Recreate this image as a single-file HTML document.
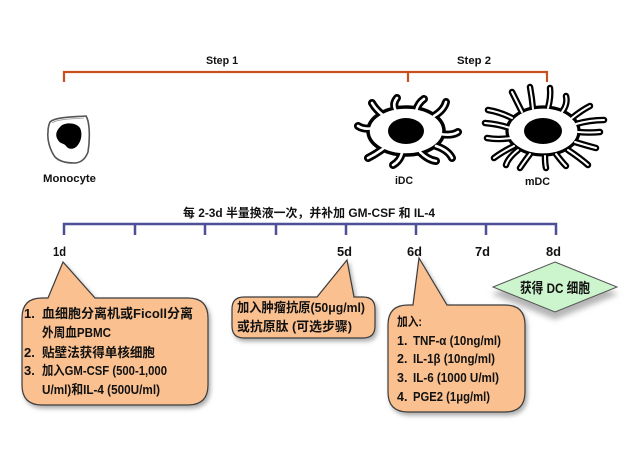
<!DOCTYPE html>
<html><head><meta charset="utf-8"><style>
html,body{margin:0;padding:0;background:#fff;}
svg{display:block;}
text{font-family:"Liberation Sans","Noto Sans CJK SC",sans-serif;font-weight:bold;fill:#111;}
</style></head><body>
<svg width="640" height="451" viewBox="0 0 640 451" xmlns="http://www.w3.org/2000/svg">
<defs>
<filter id="sh" x="-20%" y="-20%" width="140%" height="150%">
<feDropShadow dx="2" dy="3" stdDeviation="2" flood-color="#777" flood-opacity="0.6"/>
</filter>
<filter id="sh2" x="-20%" y="-30%" width="140%" height="180%">
<feDropShadow dx="0" dy="7" stdDeviation="3" flood-color="#777" flood-opacity="0.55"/>
</filter>
</defs>
<rect width="640" height="451" fill="#fff"/>

<!-- Step bracket -->
<g stroke="#C8501E" stroke-width="2.2" fill="none">
<path d="M64,82 L64,72 L547,72 L547,82"/>
<path d="M408,72 L408,82"/>
</g>
<text x="206" y="64" font-size="11" textLength="32" lengthAdjust="spacingAndGlyphs">Step 1</text>
<text x="457" y="64" font-size="11" textLength="34" lengthAdjust="spacingAndGlyphs">Step 2</text>

<!-- Monocyte -->
<path d="M50,122 C55,117 72,117 86,116 C90,122 90,140 88,152 C85,160 80,163 74,163 C66,163 59,161 55,157 C50,150 47,140 48,132 C48,127 49,124 50,122 Z" fill="#fff" stroke="#555" stroke-width="1.6"/>
<path d="M52,123 C57,119 72,119 84,118" fill="none" stroke="#999" stroke-width="0.8"/>
<path d="M60,127 C64,122 76,122 80,128 C83,134 81,143 76,147 C72,150 68,149 66,146 C64,143 60,144 58,140 C55,136 56,131 60,127 Z" fill="#000"/>
<text x="43" y="182" font-size="11" textLength="53" lengthAdjust="spacingAndGlyphs">Monocyte</text>

<!-- iDC -->
<g stroke-linecap="round" fill="none">
<g stroke="#000" stroke-width="8">
<path d="M384,116 Q376,110 372,103"/>
<path d="M396,111 Q392,104 397,98"/>
<path d="M416,111 Q418,103 424,99"/>
<path d="M434,116 Q444,110 446,102"/>
<path d="M440,134 Q452,136 458,132"/>
<path d="M436,146 Q448,150 452,158"/>
<path d="M420,152 Q428,160 436,161"/>
<path d="M402,153 Q400,161 393,165"/>
<path d="M384,148 Q376,154 368,158"/>
<path d="M374,128 Q364,130 358,126"/>
</g>
</g>
<ellipse cx="406" cy="131" rx="38" ry="24" fill="#fff" stroke="#000" stroke-width="3.5"/>
<g stroke-linecap="round" fill="none" stroke="#fff" stroke-width="2.6">
<path d="M384,116 Q376,110 372,103"/>
<path d="M396,111 Q392,104 397,98"/>
<path d="M416,111 Q418,103 424,99"/>
<path d="M434,116 Q444,110 446,102"/>
<path d="M440,134 Q452,136 458,132"/>
<path d="M436,146 Q448,150 452,158"/>
<path d="M420,152 Q428,160 436,161"/>
<path d="M402,153 Q400,161 393,165"/>
<path d="M384,148 Q376,154 368,158"/>
<path d="M374,128 Q364,130 358,126"/>
</g>
<ellipse cx="406" cy="131" rx="18" ry="13" fill="#000"/>
<text x="395" y="184" font-size="11" textLength="18" lengthAdjust="spacingAndGlyphs">iDC</text>

<!-- mDC -->
<g stroke-linecap="round" fill="none" stroke="#000" stroke-width="6.5">
<path d="M522,112 Q516,100 512,92"/>
<path d="M533,109 Q532,98 530,87"/>
<path d="M548,108 Q551,97 550,88"/>
<path d="M562,112 Q568,104 566,96"/>
<path d="M572,118 Q582,110 590,106"/>
<path d="M512,118 Q500,112 488,110"/>
<path d="M510,128 Q498,124 485,123"/>
<path d="M511,138 Q498,140 487,138"/>
<path d="M514,146 Q502,152 494,158"/>
<path d="M576,124 Q590,120 604,120"/>
<path d="M578,132 Q590,133 600,132"/>
<path d="M575,142 Q588,146 596,148"/>
<path d="M568,150 Q580,158 588,165"/>
<path d="M530,154 Q524,162 520,168"/>
<path d="M545,156 Q545,164 546,168"/>
<path d="M556,154 Q562,162 566,166"/>
<path d="M518,150 Q508,158 506,165"/>
</g>
<ellipse cx="543" cy="131" rx="36" ry="24" fill="#fff" stroke="#000" stroke-width="3.2"/>
<g stroke-linecap="round" fill="none" stroke="#fff" stroke-width="2">
<path d="M522,112 Q516,100 512,92"/>
<path d="M533,109 Q532,98 530,87"/>
<path d="M548,108 Q551,97 550,88"/>
<path d="M562,112 Q568,104 566,96"/>
<path d="M572,118 Q582,110 590,106"/>
<path d="M512,118 Q500,112 488,110"/>
<path d="M510,128 Q498,124 485,123"/>
<path d="M511,138 Q498,140 487,138"/>
<path d="M514,146 Q502,152 494,158"/>
<path d="M576,124 Q590,120 604,120"/>
<path d="M578,132 Q590,133 600,132"/>
<path d="M575,142 Q588,146 596,148"/>
<path d="M568,150 Q580,158 588,165"/>
<path d="M530,154 Q524,162 520,168"/>
<path d="M545,156 Q545,164 546,168"/>
<path d="M556,154 Q562,162 566,166"/>
<path d="M518,150 Q508,158 506,165"/>
</g>
<ellipse cx="543" cy="131" rx="19" ry="13" fill="#000"/>
<text x="525" y="185" font-size="11" textLength="25" lengthAdjust="spacingAndGlyphs">mDC</text>

<!-- Title -->
<text x="183" y="217" font-size="12" textLength="252" lengthAdjust="spacingAndGlyphs">每 2-3d 半量换液一次，并补加 GM-CSF 和 IL-4</text>

<!-- Blue timeline -->
<g stroke="#4F4E98" stroke-width="2.5" fill="none">
<path d="M64,235 L64,224 L556,224 L556,235"/>
<path d="M135,224 V235 M205,224 V235 M276,224 V235 M346,224 V235 M416,224 V235 M486,224 V235"/>
</g>
<g font-size="12.5">
<text x="53" y="256" textLength="13" lengthAdjust="spacingAndGlyphs">1d</text>
<text x="337" y="256" textLength="15" lengthAdjust="spacingAndGlyphs">5d</text>
<text x="407" y="256" textLength="15" lengthAdjust="spacingAndGlyphs">6d</text>
<text x="475" y="256" textLength="15" lengthAdjust="spacingAndGlyphs">7d</text>
<text x="546" y="256" textLength="15" lengthAdjust="spacingAndGlyphs">8d</text>
</g>

<!-- Callout 1 -->
<path filter="url(#sh)" d="M42,298 L48,298 L63,262 L95,298 L188,298 Q208,298 208,318 L208,385 Q208,405 188,405 L42,405 Q22,405 22,385 L22,318 Q22,298 42,298 Z" fill="#FAC08F" stroke="#3a3a3a" stroke-width="1.2"/>
<g font-size="13">
<text x="24" y="318">1.</text>
<text x="42" y="318" textLength="151" lengthAdjust="spacingAndGlyphs">血细胞分离机或Ficoll分离</text>
<text x="42" y="337" textLength="69" lengthAdjust="spacingAndGlyphs">外周血PBMC</text>
<text x="24" y="357">2.</text>
<text x="42" y="357" textLength="113" lengthAdjust="spacingAndGlyphs">贴壁法获得单核细胞</text>
<text x="24" y="375">3.</text>
<text x="42" y="375" textLength="125" lengthAdjust="spacingAndGlyphs">加入GM-CSF (500-1,000</text>
<text x="42" y="394" textLength="118" lengthAdjust="spacingAndGlyphs">U/ml)和IL-4 (500U/ml)</text>
</g>

<!-- Callout 5d -->
<path filter="url(#sh)" d="M244,297 L317,297 L347,260 L354,297 L363,297 Q375,297 375,309 L375,326 Q375,338 363,338 L244,338 Q232,338 232,326 L232,309 Q232,297 244,297 Z" fill="#FAC08F" stroke="#3a3a3a" stroke-width="1.2"/>
<g font-size="13">
<text x="237" y="312" textLength="128" lengthAdjust="spacingAndGlyphs">加入肿瘤抗原(50μg/ml)</text>
<text x="237" y="331" textLength="115" lengthAdjust="spacingAndGlyphs">或抗原肽 (可选步骤)</text>
</g>

<!-- Callout 6d -->
<path filter="url(#sh)" d="M408,305 L413,305 L419,258 L447,305 L505,305 Q525,305 525,325 L525,392 Q525,412 505,412 L408,412 Q388,412 388,392 L388,325 Q388,305 408,305 Z" fill="#FAC08F" stroke="#3a3a3a" stroke-width="1.2"/>
<g font-size="12.5">
<text x="397" y="326" textLength="25" lengthAdjust="spacingAndGlyphs">加入:</text>
<text x="397" y="345">1.</text>
<text x="413" y="345" textLength="88" lengthAdjust="spacingAndGlyphs">TNF-α (10ng/ml)</text>
<text x="397" y="363">2.</text>
<text x="413" y="363" textLength="82" lengthAdjust="spacingAndGlyphs">IL-1β (10ng/ml)</text>
<text x="397" y="382">3.</text>
<text x="413" y="382" textLength="86" lengthAdjust="spacingAndGlyphs">IL-6 (1000 U/ml)</text>
<text x="397" y="401">4.</text>
<text x="413" y="401" textLength="77" lengthAdjust="spacingAndGlyphs">PGE2 (1μg/ml)</text>
</g>

<!-- Diamond -->
<path filter="url(#sh2)" d="M555,262 L617,287 L555,312 L493,287 Z" fill="#CDF5CD" stroke="#555" stroke-width="1"/>
<text x="520" y="293" font-size="14" textLength="70" lengthAdjust="spacingAndGlyphs">获得 DC 细胞</text>
</svg>
</body></html>
